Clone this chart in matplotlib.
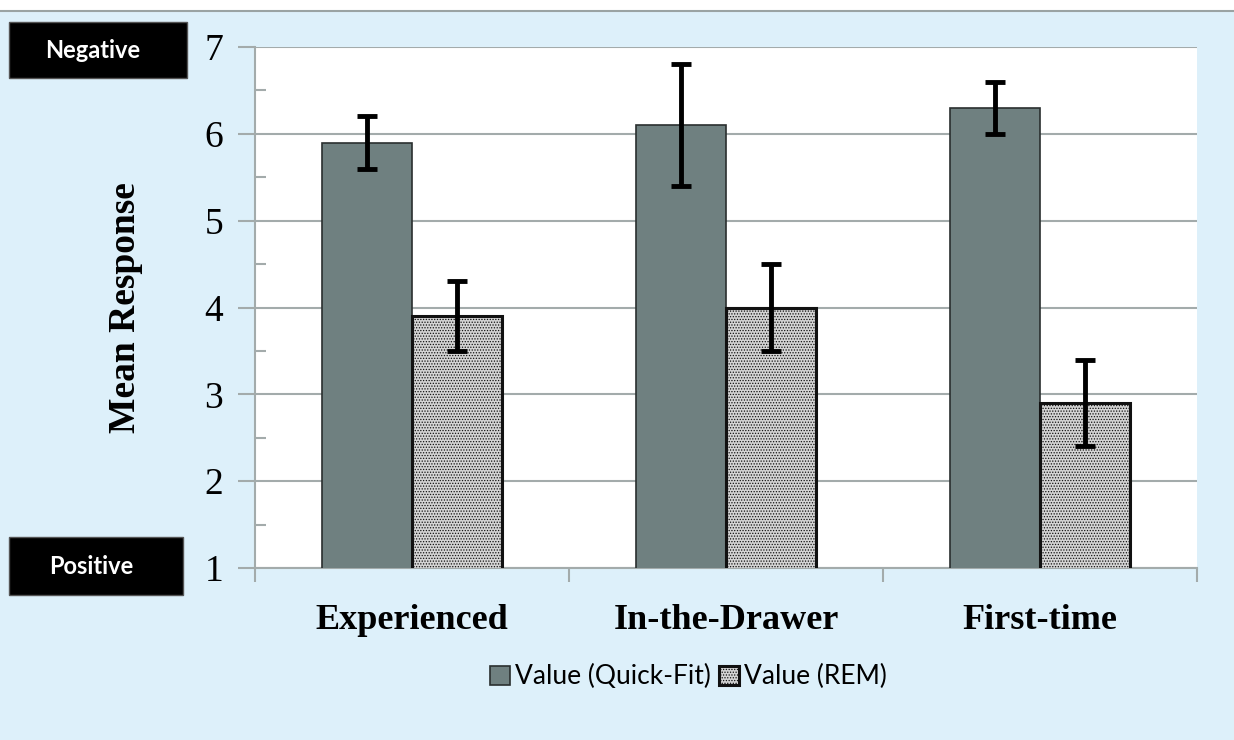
import matplotlib.pyplot as plt
import matplotlib.patches as patches
import numpy as np

categories = ["Experienced", "In-the-Drawer", "First-time"]
quick_fit = [5.9, 6.1, 6.3]
quick_fit_err = [0.3, 0.7, 0.3]
rem = [3.9, 4.0, 2.9]
rem_err = [0.4, 0.5, 0.5]

bg = "#ddf0fa"
grid_col = "#a3abab"
plt.rcParams['hatch.color'] = "#555555"
plt.rcParams['hatch.linewidth'] = 0.6

fig = plt.figure(figsize=(12.34, 7.4), dpi=100, facecolor=bg)
# white strip on top with a grey rule
fig.patches.append(patches.Rectangle((0, 1 - 11 / 740), 1, 11 / 740, transform=fig.transFigure,
                                     facecolor="white", edgecolor="none", zorder=0))
fig.lines.append(plt.Line2D([0, 1], [1 - 11 / 740] * 2, transform=fig.transFigure, color="#9aa3a3", lw=1.5))

ax = fig.add_axes([255 / 1234, 1 - 568 / 740, 942 / 1234, 521 / 740])
ax.set_facecolor("white")

x = np.arange(len(categories)) + 0.5
w = 0.287
ax.bar(x - w / 2, quick_fit, w, color="#6f8080", edgecolor="#2a2f2f", linewidth=1.2,
       zorder=3, label="Value (Quick-Fit)")
ax.bar(x + w / 2, rem, w, color="#d4d4d4", edgecolor="#111111", linewidth=2.2, hatch="......",
       zorder=3, label="Value (REM)")

ax.errorbar(x - w / 2, quick_fit, yerr=quick_fit_err, fmt="none", ecolor="black", elinewidth=3.5,
            capsize=7, capthick=3.5, zorder=4)
ax.errorbar(x + w / 2, rem, yerr=rem_err, fmt="none", ecolor="black", elinewidth=3.5,
            capsize=7, capthick=3.5, zorder=4)

ax.set_ylim(1, 7)
ax.set_xlim(0, 3)
ax.set_yticks(range(1, 8))
ax.set_yticks(np.arange(1.5, 7, 1), minor=True)
ax.yaxis.grid(True, which="major", color=grid_col, lw=1.5, zorder=0)
ax.set_xticks(x)
ax.set_xticklabels(categories, fontsize=26, fontweight="bold", family="Liberation Serif")
ax.set_xticks([0, 1, 2, 3], minor=True)
ax.tick_params(axis="x", which="major", length=0, pad=26)
ax.tick_params(axis="x", which="minor", direction="out", length=10, width=1.5, color=grid_col)
ax.tick_params(axis="y", which="major", direction="out", length=12, width=1.5, color=grid_col,
               labelsize=27, pad=11)
ax.tick_params(axis="y", which="minor", direction="in", length=8, width=1.5, color=grid_col)
for lab in ax.get_yticklabels():
    lab.set_family("Liberation Serif")

for s in ["top", "right"]:
    ax.spines[s].set_visible(False)
for s in ["left", "bottom"]:
    ax.spines[s].set_color(grid_col)
    ax.spines[s].set_linewidth(1.5)

ax.set_ylabel("Mean Response", fontsize=27, fontweight="bold", family="Liberation Serif", labelpad=44)

leg = ax.legend(loc="center", bbox_to_anchor=(0.46, -0.209), ncol=2, frameon=False,
                prop={"family": "Lato", "size": 19}, handlelength=0.75, handleheight=0.75,
                handletextpad=0.2, columnspacing=0.3)

# Negative / Positive boxes
for label, (x0, y0, x1, y1) in [("Negative", (9, 22, 187, 78)), ("Positive", (9, 537, 183, 595))]:
    fig.patches.append(patches.Rectangle((x0 / 1234, 1 - y1 / 740), (x1 - x0) / 1234, (y1 - y0) / 740,
                                         transform=fig.transFigure, facecolor="black",
                                         edgecolor="#555555", lw=1))
    fig.text((x0 + x1) / 2 / 1234 - 0.004, 1 - (y0 + y1) / 2 / 740, label, color="white",
             fontsize=17, fontweight="bold", family="Lato", ha="center", va="center")

fig.savefig("out.png", dpi=100, facecolor=bg)
